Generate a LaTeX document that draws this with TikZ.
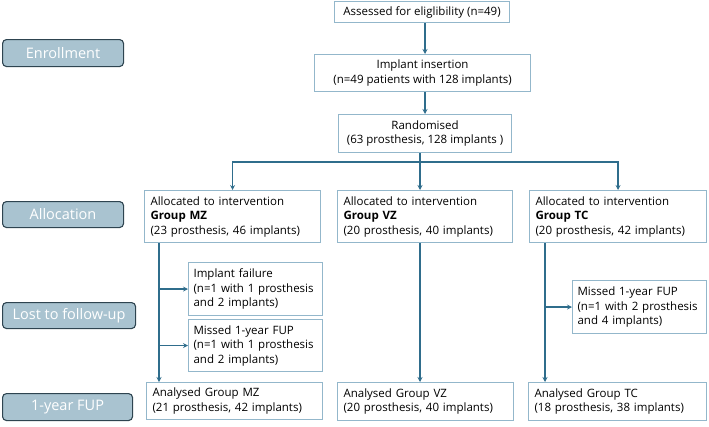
\documentclass[tikz,border=0pt]{standalone}
\usepackage{fontspec}
\setmainfont{Open Sans}
\usepackage{tikz}
\usetikzlibrary{positioning, arrows.meta}

\definecolor{boxline}{HTML}{93B7CB}
\definecolor{arrowcol}{HTML}{2F6D8C}
\definecolor{stagefill}{HTML}{A9C3D0}
\definecolor{stageline}{HTML}{2E4450}
\hyphenpenalty=10000

\begin{document}
\begin{tikzpicture}[x=1pt, y=-1pt,
    every node/.style={font=\fontsize{11.5}{14.5}\selectfont, inner sep=0pt},
    flowbox/.style={draw=boxline, line width=1.1pt, anchor=north west, align=left, inner xsep=6pt},
    stage/.style={draw=stageline, fill=stagefill, line width=1.1pt, rounded corners=4pt, anchor=north west,
        text=white, font=\fontsize{14.5}{16}\selectfont},
    arr/.style={draw=arrowcol, line width=1.3pt, -{Stealth[length=5pt, width=5pt]}}]
    \useasboundingbox (0,0) rectangle (709,426);

    % stages on the left
    \node[stage, minimum width=121pt, minimum height=27pt] (enrol) at (2,39) {Enrollment};
    \node[stage, minimum width=121pt, minimum height=26pt] (alloc) at (2,201) {Allocation};
    \node[stage, minimum width=133pt, minimum height=26pt] (lost) at (2,302) {Lost to follow-up};
    \node[stage, minimum width=130pt, minimum height=27pt] (fup) at (2,393) {1-year FUP};

    % enrolment and randomisation
    \node[flowbox, align=center, minimum width=175pt, minimum height=21pt] (assess) at (334,1) {Assessed for eliglibility (n=49)};
    \node[flowbox, align=center, minimum width=216pt, minimum height=37pt] (insert) at (314,54) {Implant insertion\\(n=49 patients with 128 implants)};
    \node[flowbox, align=center, minimum width=173pt, minimum height=38pt] (rand) at (338,114) {Randomised\\(63 prosthesis, 128 implants )};

    % allocation
    \node[flowbox, text width=164pt, minimum height=52pt] (allocMZ) at (144,190) {Allocated to intervention\\\textbf{Group MZ}\\(23 prosthesis, 46 implants)};
    \node[flowbox, text width=163pt, minimum height=52pt] (allocVZ) at (337,190) {Allocated to intervention\\\textbf{Group VZ}\\(20 prosthesis, 40 implants)};
    \node[flowbox, text width=165pt, minimum height=52pt] (allocTC) at (529,190) {Allocated to intervention\\\textbf{Group TC}\\(20 prosthesis, 42 implants)};

    % lost to follow-up
    \node[flowbox, inner xsep=5pt, text width=124pt, minimum height=53pt] (failMZ) at (188,262) {Implant failure\\(n=1 with 1 prosthesis\\and 2 implants)};
    \node[flowbox, inner xsep=5pt, text width=124pt, minimum height=52pt] (missMZ) at (188,319) {Missed 1-year FUP\\(n=1 with 1 prosthesis\\and 2 implants)};
    \node[flowbox, inner xsep=5pt, text width=124pt, minimum height=53pt] (missTC) at (572,280) {Missed 1-year FUP\\(n=1 with 2 prosthesis\\and 4 implants)};

    % analysed
    \node[flowbox, text width=164pt, minimum height=37pt] (anaMZ) at (146,382) {Analysed Group MZ\\(21 prosthesis, 42 implants)};
    \node[flowbox, text width=164pt, minimum height=38pt] (anaVZ) at (337,382) {Analysed Group VZ\\(20 prosthesis, 40 implants)};
    \node[flowbox, text width=166pt, minimum height=38pt] (anaTC) at (528,382) {Analysed Group TC\\(18 prosthesis, 38 implants)};

    % connectors
    \coordinate (mainx) at (425,0);
    \coordinate (splitx) at (420,0);
    \coordinate (split) at (420,162);
    \coordinate (mzx) at (159,0);
    \coordinate (tcx) at (545,0);
    \draw[arr] (assess.south -| mainx) -- (insert.north -| mainx);
    \draw[arr] (insert.south -| mainx) -- (rand.north -| mainx);
    \draw[draw=arrowcol, line width=1.3pt] (rand.south -| splitx) -- (split);
    \draw[arr] (split) -| (allocMZ.north);
    \draw[arr] (split) -- (allocVZ.north -| splitx);
    \draw[arr] (split) -| (allocTC.north);
    \draw[arr] (allocMZ.south -| mzx) -- (anaMZ.north -| mzx);
    \draw[arr] (failMZ.west -| mzx) -- (failMZ.west);
    \draw[arr] (missMZ.west -| mzx) -- (missMZ.west);
    \draw[arr] (allocVZ.south -| splitx) -- (anaVZ.north -| splitx);
    \draw[arr] (allocTC.south -| tcx) -- (anaTC.north -| tcx);
    \draw[arr] (missTC.west -| tcx) -- (missTC.west);
\end{tikzpicture}
\end{document}
